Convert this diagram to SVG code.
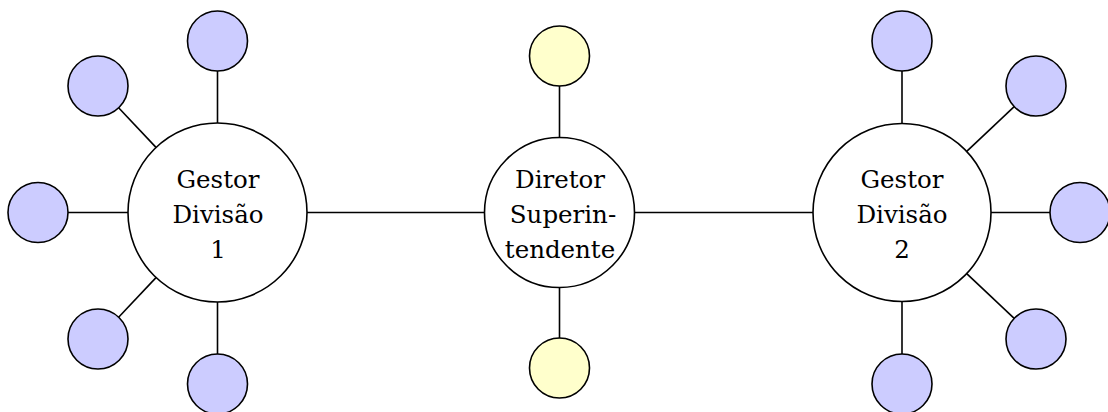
<svg xmlns="http://www.w3.org/2000/svg" width="1108" height="412" viewBox="0 0 1108 412">
<style>
.hub{fill:#ffffff;stroke:#000;stroke-width:1.6}
.sat{fill:#ccccff;stroke:#000;stroke-width:1.6}
.ysat{fill:#ffffcc;stroke:#000;stroke-width:1.6}
.edge{stroke:#000;stroke-width:1.6;fill:none}
.lbl{font-family:'DejaVu Serif','Liberation Serif',serif;font-size:24.5px;fill:#000;text-anchor:middle}
</style>
<rect width="1108" height="412" fill="#ffffff"/>
<g id="connectors">
<line class="edge" x1="217.5" y1="123" x2="217.5" y2="71"/>
<line class="edge" x1="156" y1="147.4" x2="118.6" y2="107.8"/>
<line class="edge" x1="128" y1="212.5" x2="68" y2="212.5"/>
<line class="edge" x1="156" y1="277.6" x2="118.6" y2="317.2"/>
<line class="edge" x1="217.5" y1="302" x2="217.5" y2="354"/>
<line class="edge" x1="307" y1="212.5" x2="484.5" y2="212.5"/>
<line class="edge" x1="559.5" y1="137.5" x2="559.5" y2="86"/>
<line class="edge" x1="559.5" y1="287.5" x2="559.5" y2="338"/>
<line class="edge" x1="634.5" y1="212.5" x2="813" y2="212.5"/>
<line class="edge" x1="902" y1="123.5" x2="902" y2="71"/>
<line class="edge" x1="966.7" y1="151.4" x2="1014.2" y2="106.6"/>
<line class="edge" x1="991" y1="212.5" x2="1050" y2="212.5"/>
<line class="edge" x1="966.7" y1="273.6" x2="1014.2" y2="318.4"/>
<line class="edge" x1="902" y1="301.5" x2="902" y2="354"/>
</g>
<g id="gestor1">
<circle class="hub" cx="217.5" cy="212.5" r="89.5"/>
<text class="lbl" x="218" y="188">Gestor</text>
<text class="lbl" x="218" y="223">Divisão</text>
<text class="lbl" x="218" y="258">1</text>
</g>
<g id="g1-top"><circle class="sat" cx="217.5" cy="41" r="30"/></g>
<g id="g1-upleft"><circle class="sat" cx="98" cy="86" r="30"/></g>
<g id="g1-left"><circle class="sat" cx="38" cy="212.5" r="30"/></g>
<g id="g1-lowleft"><circle class="sat" cx="98" cy="339" r="30"/></g>
<g id="g1-bottom"><circle class="sat" cx="217.5" cy="384" r="30"/></g>
<g id="diretor">
<circle class="hub" cx="559.5" cy="212.5" r="75"/>
<text class="lbl" x="560" y="188">Diretor</text>
<text class="lbl" x="563" y="223">Superin-</text>
<text class="lbl" x="560" y="258">tendente</text>
</g>
<g id="d-top"><circle class="ysat" cx="559.5" cy="56" r="30"/></g>
<g id="d-bottom"><circle class="ysat" cx="559.5" cy="368" r="30"/></g>
<g id="gestor2">
<circle class="hub" cx="902" cy="212.5" r="89"/>
<text class="lbl" x="902" y="188">Gestor</text>
<text class="lbl" x="902" y="223">Divisão</text>
<text class="lbl" x="902" y="258">2</text>
</g>
<g id="g2-top"><circle class="sat" cx="902" cy="41" r="30"/></g>
<g id="g2-upright"><circle class="sat" cx="1036" cy="86" r="30"/></g>
<g id="g2-right"><circle class="sat" cx="1080" cy="212.5" r="30"/></g>
<g id="g2-lowright"><circle class="sat" cx="1036" cy="339" r="30"/></g>
<g id="g2-bottom"><circle class="sat" cx="902" cy="384" r="30"/></g>
</svg>
